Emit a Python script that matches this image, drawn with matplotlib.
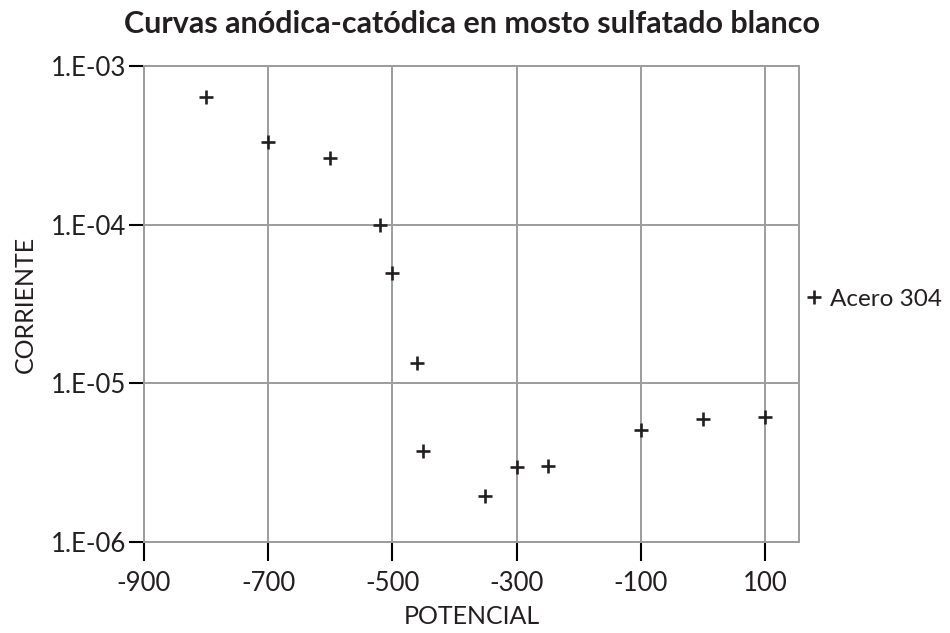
"""
Curvas anódica-catódica - Acero 304 en mosto sulfatado blanco
"""

import matplotlib
matplotlib.use("Agg")
import matplotlib.pyplot as plt
import numpy as np

# ===================== datos =====================
potencial = [-800, -700, -600, -520, -500, -460, -450, -350, -300, -250, -100, 0, 100]
corriente = [6.35e-4, 3.33e-4, 2.65e-4, 1.0e-4, 4.97e-5, 1.34e-5, 3.74e-6,
             1.95e-6, 2.99e-6, 3.0e-6, 5.08e-6, 5.93e-6, 6.16e-6]

x_ticks = [-900, -700, -500, -300, -100, 100]
y_ticks = [1e-6, 1e-5, 1e-4, 1e-3]
y_labels = ["1.E-06", "1.E-05", "1.E-04", "1.E-03"]

TITULO = "Curvas anódica-catódica en mosto sulfatado blanco"
SERIE = "Acero 304"

# ===================== estilo =====================
plt.rcParams["font.family"] = ["Lato", "DejaVu Sans"]
TXT = "#231f20"
GRIS = "#9c9c9c"

fig = plt.figure(figsize=(9.5, 6.33), dpi=100)
# posición del área de trazado en píxeles (izq 144, der 799, arriba 66, abajo 542)
ax = fig.add_axes([144 / 950, 1 - 542 / 633, (799 - 144) / 950, (542 - 66) / 633])

ax.plot(potencial, corriente, linestyle="none", marker="+", markersize=10,
        markeredgewidth=1.9, color=TXT, label=SERIE, clip_on=False)

ax.set_yscale("log")
ax.set_xlim(-900, 155)
ax.set_ylim(1e-6, 1e-3)

ax.set_xticks(x_ticks)
ax.set_xticklabels([str(v) for v in x_ticks])
ax.set_yticks(y_ticks)
ax.set_yticklabels(y_labels)
ax.yaxis.set_minor_locator(matplotlib.ticker.NullLocator())

ax.grid(True, color=GRIS, linewidth=1.4)
ax.set_axisbelow(True)
for s in ax.spines.values():
    s.set_color(GRIS)
    s.set_linewidth(1.4)

ax.tick_params(axis="x", direction="out", length=14, width=1.5, color="black",
               labelsize=18.5, labelcolor=TXT, pad=7)
ax.tick_params(axis="y", direction="out", length=11, width=1.5, color="black",
               labelsize=18.5, labelcolor=TXT, pad=2)

ax.set_xlabel("POTENCIAL", fontsize=18, color=TXT, labelpad=6)
ax.set_ylabel("CORRIENTE", fontsize=18, color=TXT, labelpad=10)
ax.set_title(TITULO, fontsize=22, fontweight="bold", color=TXT, pad=24)

leg = ax.legend(loc="center left", bbox_to_anchor=(0.99, 0.51), frameon=False,
                handlelength=0.55, handletextpad=0.4, fontsize=17.5, borderaxespad=0.2)
for t in leg.get_texts():
    t.set_color(TXT)

fig.savefig("out.png", dpi=100)
plt.close(fig)
